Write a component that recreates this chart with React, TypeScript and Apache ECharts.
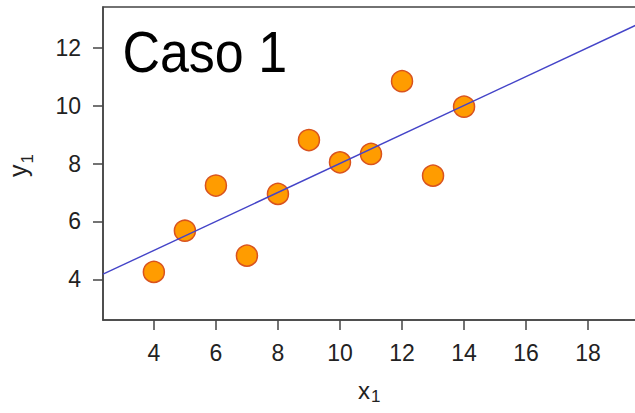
import React, { useEffect, useRef } from "react";
import * as echarts from "echarts";

const xValues = [10, 8, 13, 9, 11, 14, 6, 4, 12, 7, 5];
const yValues = [8.04, 6.95, 7.58, 8.81, 8.33, 9.96, 7.24, 4.26, 10.84, 4.82, 5.68];
const xTicks = [4, 6, 8, 10, 12, 14, 16, 18];
const yTicks = [4, 6, 8, 10, 12];
const xRange = [2.36, 19.64];
const yRange = [2.6, 13.4];
const titleText = "Caso 1";

const FONT = "'Liberation Sans', Arial, Helvetica, sans-serif";

function fit(xs: number[], ys: number[]) {
  const n = xs.length;
  const mx = xs.reduce((a, b) => a + b, 0) / n;
  const my = ys.reduce((a, b) => a + b, 0) / n;
  let sxy = 0;
  let sxx = 0;
  for (let i = 0; i < n; i++) {
    sxy += (xs[i] - mx) * (ys[i] - my);
    sxx += (xs[i] - mx) * (xs[i] - mx);
  }
  const b = sxy / sxx;
  return { a: my - b * mx, b };
}

export default function App() {
  const ref = useRef<HTMLDivElement>(null);
  useEffect(() => {
    if (!ref.current) return;
    const chart = echarts.init(ref.current, null, { renderer: "svg" });
    const { a, b } = fit(xValues, yValues);
    const lineData = xRange.map((x) => [x, a + b * x]);
    const axisColor = "#444";
    chart.setOption({
      animation: false,
      backgroundColor: "#fff",
      grid: {
        left: 103,
        top: 7,
        width: 536,
        height: 313,
        show: true,
        borderColor: axisColor,
        borderWidth: 1.5,
        backgroundColor: "transparent",
      },
      xAxis: {
        type: "value",
        min: xRange[0],
        max: xRange[1],
        splitLine: { show: false },
        axisLine: { show: true, lineStyle: { color: axisColor, width: 1.5 } },
        axisTick: {
          show: true,
          inside: false,
          length: 10,
          customValues: xTicks,
          lineStyle: { color: axisColor, width: 1.5 },
        },
        axisLabel: {
          customValues: xTicks,
          margin: 21,
          fontSize: 23,
          color: "#222",
          fontFamily: FONT,
        },
      },
      yAxis: {
        type: "value",
        min: yRange[0],
        max: yRange[1],
        splitLine: { show: false },
        axisLine: { show: true, lineStyle: { color: axisColor, width: 1.5 } },
        axisTick: {
          show: true,
          inside: false,
          length: 10,
          customValues: yTicks,
          lineStyle: { color: axisColor, width: 1.5 },
        },
        axisLabel: {
          customValues: yTicks,
          margin: 22,
          fontSize: 23,
          color: "#222",
          fontFamily: FONT,
        },
      },
      series: [
        {
          type: "scatter",
          data: xValues.map((x, i) => [x, yValues[i]]),
          symbolSize: 21,
          itemStyle: { color: "#FF9C00", borderColor: "#D9531E", borderWidth: 1.5, opacity: 1 },
          z: 2,
        },
        {
          type: "line",
          data: lineData,
          showSymbol: false,
          symbol: "none",
          lineStyle: { color: "#4444C8", width: 1.4 },
          z: 3,
        },
      ],
      graphic: [
        {
          type: "text",
          x: 122.4,
          y: 52.9,
          scaleY: 1.1,
          style: {
            text: titleText,
            font: `52px ${FONT}`,
            fill: "#000",
            align: "left",
            verticalAlign: "middle",
          },
        },
        {
          type: "text",
          x: 358,
          y: 390.7,
          style: { text: "x", font: `24px ${FONT}`, fill: "#222", align: "left", verticalAlign: "middle" },
        },
        {
          type: "text",
          x: 371,
          y: 396.5,
          style: { text: "1", font: `17px ${FONT}`, fill: "#222", align: "left", verticalAlign: "middle" },
        },
        {
          type: "group",
          x: 27,
          y: 177,
          rotation: Math.PI / 2,
          children: [
            {
              type: "text",
              x: 0,
              y: -8.7,
              style: { text: "y", font: `25px ${FONT}`, fill: "#222", align: "left", verticalAlign: "middle" },
            },
            {
              type: "text",
              x: 13.5,
              y: 0.1,
              style: { text: "1", font: `17px ${FONT}`, fill: "#222", align: "left", verticalAlign: "middle" },
            },
          ],
        },
      ],
    });
    return () => chart.dispose();
  }, []);
  return (
    <div style={{ position: "fixed", left: 0, top: 0, width: 635, height: 413, overflow: "hidden", background: "#fff" }}>
      <div ref={ref} style={{ width: 650, height: 413 }} />
    </div>
  );
}
